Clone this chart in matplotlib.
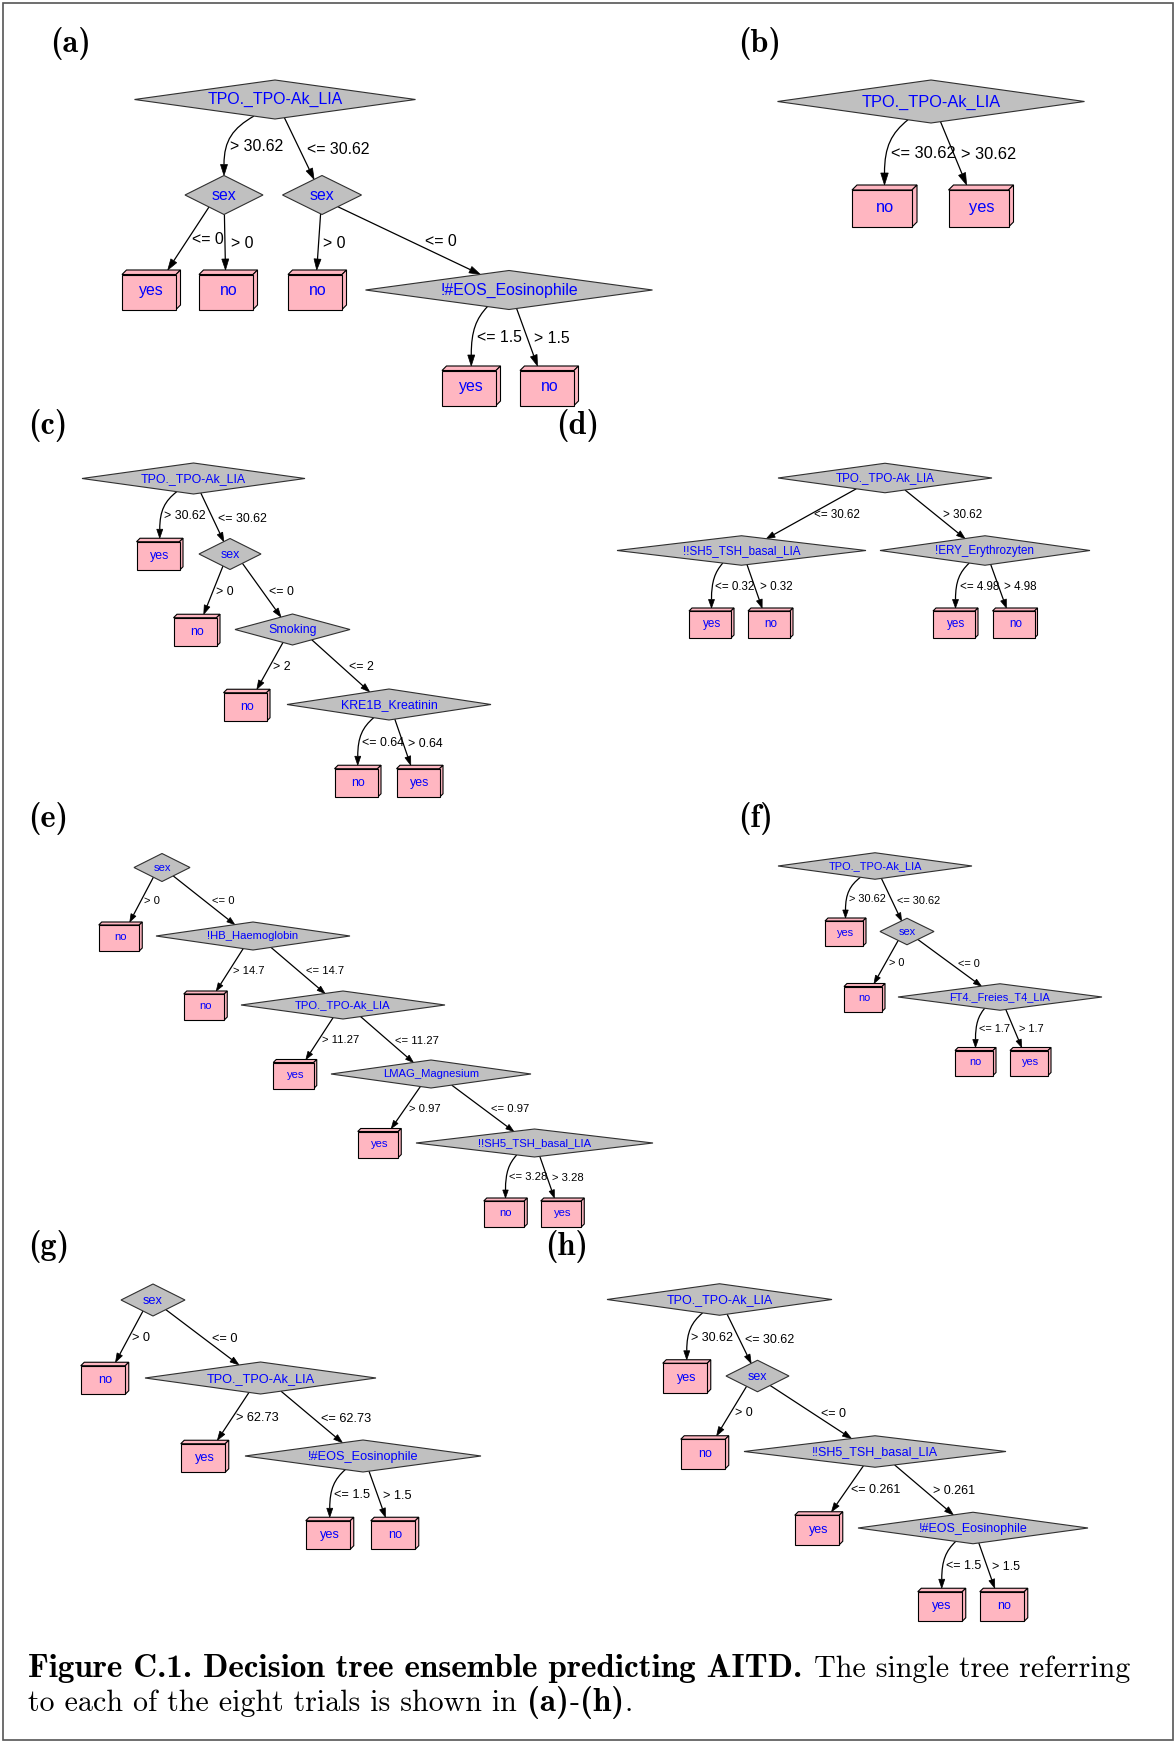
import numpy as np
import matplotlib
matplotlib.use('Agg')
import matplotlib.pyplot as plt
from matplotlib.patches import Polygon, PathPatch, Rectangle
from matplotlib.path import Path

plt.rcParams['font.family'] = ['Liberation Sans', 'DejaVu Sans']

# ---------------- tree contents (node text, parent index, split on incoming edge)
tpo = 'TPO._TPO-Ak_LIA'
eos = '!#EOS_Eosinophile'
tsh = '!!SH5_TSH_basal_LIA'

a_labels = [tpo, 'sex', 'sex', 'yes', 'no', 'no', eos, 'yes', 'no']
a_parent = [-1, 0, 0, 1, 1, 2, 2, 6, 6]
a_cond = ['', '> 30.62', '<= 30.62', '<= 0', '> 0', '> 0', '<= 0', '<= 1.5', '> 1.5']

b_labels = [tpo, 'no', 'yes']
b_parent = [-1, 0, 0]
b_cond = ['', '<= 30.62', '> 30.62']

c_labels = [tpo, 'yes', 'sex', 'no', 'Smoking', 'no', 'KRE1B_Kreatinin', 'no', 'yes']
c_parent = [-1, 0, 0, 2, 2, 4, 4, 6, 6]
c_cond = ['', '> 30.62', '<= 30.62', '> 0', '<= 0', '> 2', '<= 2', '<= 0.64', '> 0.64']

d_labels = [tpo, tsh, '!ERY_Erythrozyten', 'yes', 'no', 'yes', 'no']
d_parent = [-1, 0, 0, 1, 1, 2, 2]
d_cond = ['', '<= 30.62', '> 30.62', '<= 0.32', '> 0.32', '<= 4.98', '> 4.98']

e_labels = ['sex', 'no', '!HB_Haemoglobin', 'no', tpo, 'yes', 'LMAG_Magnesium',
            'yes', tsh, 'no', 'yes']
e_parent = [-1, 0, 0, 2, 2, 4, 4, 6, 6, 8, 8]
e_cond = ['', '> 0', '<= 0', '> 14.7', '<= 14.7', '> 11.27', '<= 11.27',
          '> 0.97', '<= 0.97', '<= 3.28', '> 3.28']

f_labels = [tpo, 'yes', 'sex', 'no', 'FT4._Freies_T4_LIA', 'no', 'yes']
f_parent = [-1, 0, 0, 2, 2, 4, 4]
f_cond = ['', '> 30.62', '<= 30.62', '> 0', '<= 0', '<= 1.7', '> 1.7']

g_labels = ['sex', 'no', tpo, 'yes', eos, 'yes', 'no']
g_parent = [-1, 0, 0, 2, 2, 4, 4]
g_cond = ['', '> 0', '<= 0', '> 62.73', '<= 62.73', '<= 1.5', '> 1.5']

h_labels = [tpo, 'yes', 'sex', 'no', tsh, 'yes', eos, 'yes', 'no']
h_parent = [-1, 0, 0, 2, 2, 4, 4, 6, 6]
h_cond = ['', '> 30.62', '<= 30.62', '> 0', '<= 0', '<= 0.261', '> 0.261', '<= 1.5', '> 1.5']

caption_bold = 'Figure C.1. Decision tree ensemble predicting AITD.'
caption_rest = 'The single tree referring'
caption_line2 = 'to each of the eight trials is shown in'

# ---------------- layout (pixel centres, diamond widths, curved edges, sizes)
a_pos = [(275, 99.5), (224, 195), (322, 195), (149, 292), (226, 292), (315, 292),
         (509, 290), (469, 388), (547, 388)]
a_w = [281, 78, 79, 0, 0, 0, 287, 0, 0]
a_curved = [1, 7]
a_style = dict(fs=11.4, dh=39, box=(54, 35, 4.5), arrow=(11, 7))

b_pos = [(931, 101.5), (882, 208.5), (978.5, 208.5)]
b_w = [307, 0, 0]
b_curved = [1]
b_style = dict(fs=11.8, dh=43, box=(60, 37, 5), arrow=(12, 7.5))

c_pos = [(193.5, 478.5), (158, 556), (230, 554), (195, 632), (292.5, 629.5),
         (245, 707), (389, 704.5), (356, 783), (418, 783)]
c_w = [223, 0, 62, 0, 115, 0, 204, 0, 0]
c_curved = [1, 7]
c_style = dict(fs=8.9, dh=31, box=(43, 28.5, 3.5), arrow=(9, 6))

d_pos = [(885, 478), (741.5, 550.5), (985, 550.5), (710, 624.5), (769, 624.5),
         (954, 624.5), (1013.5, 624.5)]
d_w = [214, 249, 210, 0, 0, 0, 0]
d_curved = [3, 5]
d_style = dict(fs=8.4, dh=29.5, box=(42, 27, 3), arrow=(8.5, 6))

e_pos = [(162, 867.5), (119, 938), (253, 936), (204, 1007), (343, 1005),
         (293.5, 1075.5), (431, 1074), (378, 1144.5), (534.5, 1143),
         (504, 1214), (561, 1214)]
e_w = [56, 0, 194, 0, 204, 0, 200, 0, 237, 0, 0]
e_curved = [9]
e_style = dict(fs=8.1, dh=28, box=(40.5, 26, 3), arrow=(8, 5.5))

f_pos = [(875, 866), (844, 933.5), (907, 931.5), (863, 999), (1000, 997),
         (974, 1063), (1029, 1063)]
f_w = [194, 0, 54, 0, 204, 0, 0]
f_curved = [1, 5]
f_style = dict(fs=7.9, dh=26.5, box=(38, 25, 3), arrow=(8, 5.5))

g_pos = [(153, 1300), (103, 1380), (260.5, 1378), (203, 1458), (363, 1456),
         (328, 1535), (393, 1535)]
g_w = [64, 0, 231, 0, 236, 0, 0]
g_curved = [5]
g_style = dict(fs=9.2, dh=32, box=(44.5, 28.5, 3.5), arrow=(9, 6))

h_pos = [(719.5, 1299.5), (685, 1378), (757.5, 1376), (703, 1454), (875, 1451.5),
         (817, 1530), (973, 1528), (940, 1606.5), (1002, 1606.5)]
h_w = [225, 0, 63, 0, 262, 0, 230, 0, 0]
h_curved = [1, 7]
h_style = dict(fs=9.0, dh=31.5, box=(44.5, 29.5, 3.5), arrow=(9, 6))

panel_tags = ['(a)', '(b)', '(c)', '(d)', '(e)', '(f)', '(g)', '(h)']
tag_xy = [(50, 52), (738, 52), (28, 434), (556, 434), (28, 827), (738, 827),
          (28, 1255), (545, 1255)]

trees = [
    (a_labels, a_parent, a_cond, a_pos, a_w, a_curved, a_style),
    (b_labels, b_parent, b_cond, b_pos, b_w, b_curved, b_style),
    (c_labels, c_parent, c_cond, c_pos, c_w, c_curved, c_style),
    (d_labels, d_parent, d_cond, d_pos, d_w, d_curved, d_style),
    (e_labels, e_parent, e_cond, e_pos, e_w, e_curved, e_style),
    (f_labels, f_parent, f_cond, f_pos, f_w, f_curved, f_style),
    (g_labels, g_parent, g_cond, g_pos, g_w, g_curved, g_style),
    (h_labels, h_parent, h_cond, h_pos, h_w, h_curved, h_style),
]

W, H = 1176, 1743
fig = plt.figure(figsize=(W / 100, H / 100), dpi=100)
ax = fig.add_axes([0, 0, 1, 1])
ax.set_xlim(0, W)
ax.set_ylim(H, 0)
ax.axis('off')
renderer = fig.canvas.get_renderer()

PINK = '#ffb6c1'
GREY = '#c0c0c0'
BLUE = '#0000ff'


def px(pt):
    return pt * 100 / 72


def draw_diamond(cx, cy, w, h, text, fs):
    ax.add_patch(Polygon([(cx - w / 2, cy), (cx, cy - h / 2), (cx + w / 2, cy), (cx, cy + h / 2)],
                         closed=True, fc=GREY, ec='#303030', lw=0.8, zorder=3))
    ax.text(cx, cy + 0.3 * px(fs), text, ha='center', va='baseline', fontsize=fs,
            color=BLUE, zorder=4)


def draw_leaf(cx, cy, bw, bh, d, text, fs):
    L, R, T, B = cx - bw / 2, cx + bw / 2, cy - bh / 2, cy + bh / 2
    kw = dict(fc=PINK, ec='black', lw=0.8, zorder=3)
    ax.add_patch(Polygon([(L, T), (L + d, T - d), (R + d, T - d), (R, T)], **kw))
    ax.add_patch(Polygon([(R, T), (R + d, T - d), (R + d, B - d), (R, B)], **kw))
    ax.add_patch(Rectangle((L, T), bw, bh, **kw))
    ax.text(cx + 0.6 * d, cy + 0.22 * px(fs), text, ha='center', va='baseline',
            fontsize=fs, color=BLUE, zorder=4)


def draw_edge(ppos, pw, cpos, cw, leaf, curved, label, st):
    px0, py0 = ppos
    cx, cy = cpos
    dh = st['dh']
    bw, bh, d = st['box']
    dx = cx - px0
    off = -0.075 * pw if curved else float(np.clip(0.2 * dx, -0.2 * pw, 0.2 * pw))
    sx = px0 + off
    sy = py0 + dh / 2 * (1 - abs(off) / (pw / 2))
    if leaf:
        eoff = d / 2 if curved else float(np.clip(-0.25 * dx, -0.35 * bw, 0.35 * bw))
        ex, ey = cx + eoff, cy - bh / 2 - d
    else:
        eoff = 0 if curved else float(np.clip(-0.2 * dx, -0.1 * cw, 0.1 * cw))
        ex = cx + eoff
        ey = cy - dh / 2 * (1 - abs(eoff) / (cw / 2))
    al, aw = st['arrow']
    if curved:
        ux, uy = 0.0, 1.0
    else:
        n = np.hypot(ex - sx, ey - sy)
        ux, uy = (ex - sx) / n, (ey - sy) / n
    bx, by = ex - al * ux, ey - al * uy
    if curved:
        verts = [(sx, sy), (sx + 0.7 * (bx - sx), sy + 0.25 * (by - sy)),
                 (bx, sy + 0.5 * (by - sy)), (bx, by)]
        path = Path(verts, [Path.MOVETO, Path.CURVE4, Path.CURVE4, Path.CURVE4])
        t = np.linspace(0, 1, 200)[:, None]
        v = np.array(verts)
        pts = ((1 - t) ** 3 * v[0] + 3 * (1 - t) ** 2 * t * v[1]
               + 3 * (1 - t) * t ** 2 * v[2] + t ** 3 * v[3])
        xs, ys = pts[:, 0], pts[:, 1]
    else:
        path = Path([(sx, sy), (bx, by)])
        xs, ys = np.array([sx, ex]), np.array([sy, ey])
    ax.add_patch(PathPatch(path, fc='none', ec='black', lw=0.9, zorder=2))
    ax.add_patch(Polygon([(ex, ey), (bx - aw / 2 * uy, by + aw / 2 * ux),
                          (bx + aw / 2 * uy, by - aw / 2 * ux)],
                         closed=True, fc='black', ec='black', lw=0.5, zorder=2))
    fp = px(st['fs'])
    ly = (sy + ey) / 2
    if ex > sx + 1:
        lx = np.interp(ly + 0.3 * fp, ys, xs) + 0.35 * fp
    else:
        lx = np.interp(ly, ys, xs) + 0.25 * fp
    ax.text(lx, ly + 0.36 * fp, label, ha='left', va='baseline', fontsize=st['fs'],
            color='black', zorder=4)


for labels, parent, cond, pos, widths, curved, st in trees:
    bw, bh, d = st['box']
    for i, lab in enumerate(labels):
        leaf = lab in ('yes', 'no')
        if leaf:
            draw_leaf(pos[i][0], pos[i][1], bw, bh, d, lab, st['fs'])
        else:
            draw_diamond(pos[i][0], pos[i][1], widths[i], st['dh'], lab, st['fs'])
        if parent[i] >= 0:
            p = parent[i]
            draw_edge(pos[p], widths[p], pos[i], widths[i], leaf, i in curved,
                      cond[i], st)


# ---------------- caption, Computer Modern, pieces placed one after another
def width_of(s, fam, fs):
    t = ax.text(0, 0, s, family=fam, fontsize=fs)
    w = t.get_window_extent(renderer).width
    t.remove()
    return w


def text_run(x, y, pieces):
    for s, fam, fs, gap in pieces:
        x += gap * px(fs)
        t = ax.text(x, y, s, family=fam, fontsize=fs, ha='left', va='baseline')
        x += t.get_window_extent(renderer).width
    return x


x_left, x_right = 28, 1131
# common size that makes the first line span the text block
w_b = width_of(caption_bold, 'cmb10', 17.0)
w_r = width_of(caption_rest, 'cmr10', 17.0)
base_fs = 17.0 * (x_right - x_left) / (w_b + w_r + 0.36 * px(17.0))
bold_fs = 1.03 * base_fs
bold_end = x_left + w_b * bold_fs / 17.0
gap = 0.36 * px(base_fs)
reg_fs = 17.0 * (x_right - bold_end - gap) / w_r

text_run(x_left, 1677, [(caption_bold, 'cmb10', bold_fs, 0),
                        (caption_rest, 'cmr10', reg_fs, gap / px(reg_fs))])
text_run(x_left, 1711, [(caption_line2, 'cmr10', reg_fs, 0),
                        ('(a)', 'cmb10', bold_fs, 0.3), ('-', 'cmr10', reg_fs, 0.02),
                        ('(h)', 'cmb10', bold_fs, 0.02), ('.', 'cmr10', reg_fs, 0.01)])

for tag, (tx, ty) in zip(panel_tags, tag_xy):
    ax.text(tx, ty, tag, family='cmb10', fontsize=base_fs, ha='left', va='baseline')

# frame
ax.add_patch(Rectangle((3, 3), W - 6, H - 6, fc='none', ec='#555555', lw=1.2))

fig.savefig('out.png', dpi=100)
